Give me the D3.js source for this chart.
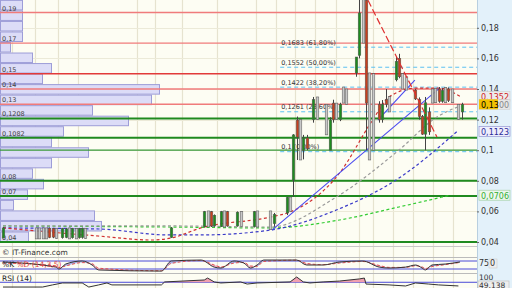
<!DOCTYPE html>
<html><head><meta charset="utf-8">
<script src="https://cdn.jsdelivr.net/npm/d3@7"></script>
<style>body{margin:0;background:#fff}svg{display:block}text{font-family:"DejaVu Sans",Verdana,sans-serif}</style>
</head><body><svg id="c" width="512" height="288"></svg>
<script>
// ---------- data ----------
const priceTicks=[0.04,0.06,0.08,0.1,0.12,0.14,0.16,0.18];
const resistLevels=[0.19,0.17,0.15,0.14,0.13];
const supportLevels=[0.1208,0.1082,0.08,0.07,0.04];
const levelLabels=["0,19","0,17","0,15","0,14","0,13","0,1208","0,1082","0,08","0,07","0,04"];
const fibLevels=[0.1683,0.1552,0.1422,0.1261,0.1];
const fibLabels=["0,1683 (61,80%)","0,1552 (50,00%)","0,1422 (38,20%)","0,1261 (23,60%)","0,1 (0,00%)"];
const fibStartDay=84;
const volBinStart=0.04, volBinStep=0.00688;
const volBins=[28,101,94,13,27,43,32,51,88,51,63,128,92,151,159,42,51,32,10,22,22,22,22];
const gridDays=[2.7,9.7,16.7,22.7,40.6,46,54.2,64.8,76.7,82.7,88.5,94.5,100.9,107.9,112.1,118.2,124.2,130.3,136.4];
// [day, open, high, low, close]
const candles=[
[0,.0426,.0498,.0426,.0492],
[10,.045,.0492,.0420,.045],[11,.045,.0492,.0420,.045],[12,.045,.0492,.0420,.045],[13,.045,.0492,.0420,.045],
[14,.0490,.0495,.0425,.0430],[15,.0488,.0492,.0425,.0432],[16,.045,.0490,.0422,.045],
[18,.0428,.0492,.0422,.0488],[19,.0430,.0492,.0425,.0486],[20,.045,.0492,.0420,.045],
[21,.0428,.0492,.0422,.0488],[22,.045,.0490,.0420,.045],[23,.0428,.0492,.0422,.0489],[24,.0430,.0494,.0422,.0490],[25,.045,.0490,.0422,.045],
[51,.0430,.0498,.0426,.0492],
[61,.0500,.0603,.0495,.0598],[62,.055,.0603,.0498,.055],[63,.0598,.0603,.0498,.0505],[64,.0505,.0580,.0500,.0575],
[66,.0500,.0603,.0498,.0598],[67,.055,.0603,.0498,.055],[68,.0598,.0603,.0500,.0505],
[71,.0505,.0600,.0500,.0595],[72,.055,.0600,.0500,.055],
[76,.0500,.0603,.0495,.0598],[77,.055,.0603,.0498,.055],
[81,.055,.0603,.0480,.055],[82,.0520,.0590,.0500,.0580],
[86,.0590,.0694,.0576,.0690],[87,.064,.0694,.0600,.064],
[88,.0805,.1105,.0694,.1100],[89,.1197,.1220,.0936,.1086],[90,.105,.1200,.0936,.105],
[91,.1000,.1100,.0940,.1080],[92,.1080,.1100,.1000,.1010],
[94,.1200,.1348,.1180,.1330],[95,.127,.1348,.1200,.127],
[98,.120,.1300,.1100,.120],[99,.1000,.1215,.1000,.1197],[100,.1308,.1330,.1180,.1200],[101,.125,.1308,.1200,.125],
[102,.1200,.1310,.1190,.1300],[103,.136,.1413,.1308,.136],[104,.135,.1400,.1300,.135],
[107,.1505,.1609,.1480,.1609],[108,.1620,.2000,.1600,.1897],[109,.185,.2000,.1700,.185],
[110,.1980,.2000,.1000,.1308],[111,.120,.1505,.0936,.120],[112,.125,.1500,.1000,.125],
[114,.1300,.1320,.1180,.1200],[115,.1200,.1328,.1180,.1300],[116,.1330,.1400,.1280,.1300],[117,.131,.1350,.1250,.131],
[119,.1460,.1610,.1450,.1580],[120,.1600,.1630,.1470,.1480],[121,.145,.1500,.1400,.145],[122,.144,.1480,.1393,.144],
[125,.1393,.1400,.1328,.1335],[126,.1330,.1345,.1200,.1220],[127,.1220,.1230,.1100,.1105],[128,.1105,.1348,.1000,.1310],
[129,.1250,.1280,.1100,.1120],[130,.135,.1400,.1308,.135],[131,.136,.1405,.1310,.136],[132,.1400,.1413,.1310,.1320],
[133,.1320,.1405,.1310,.1390],[134,.136,.1410,.1310,.136],[135,.1400,.1410,.1315,.1325],[136,.136,.1400,.1310,.136],
[138,.130,.1300,.1200,.130],[139,.1250,.1310,.1200,.1300]
];
const maRed=[[0,.0492],[14,.0465],[29,.0439],[45,.0413],[51,.0426],[60,.0492],[81,.0563],[87,.0596],[102,.0851],[112,.1197],[117,.1348],[125,.1406],[132,.1406],[138.5,.1352]];
const maBlue=[[0,.0492],[29,.0485],[50,.0446],[60,.0446],[81,.0478],[101,.0609],[120,.0818],[137.6,.1123]];
const maGreen=[[0,.0505],[50,.0498],[81,.0492],[102,.0544],[120,.0629],[135.5,.0706]];
const maGrey=[[0,.0505],[50,.0505],[81,.0498],[101,.0694],[120,.1001],[131.5,.1217],[138.5,.1289]];
const trendRed=[[110.6,.198],[131.5,.1086]];
const trendBlue1=[[81.5,.0478],[132.4,.1407]];
const trendBlue2=[[113.6,.1197],[124.8,.1458]];
const stochDay=[0,16,17,19,24,27,29,48,51,60,64,66,70,73,75,77,79,89,92,97,102,109,114,117,122,125,127,128,130,134,138.5];
const stochK=[69,37,25,56,75,50,19,12,75,81,37,31,75,62,31,50,81,81,50,50,69,75,37,31,37,50,31,19,50,56,69];
const stochD=[62,45,34,44,65,58,30,14,60,78,50,38,62,66,44,42,72,80,60,52,62,72,47,35,35,45,38,28,40,52,66];
const stochLevels=[75,25];
const rsiDay=[0,12,15,18,24,26,29,31.5,33,48,49,61,62,64,66,72,74,77,87,89,91,93,97,102,108,109.5,110,117,122,125,129,132,138];
const rsiVal=[43,43,55,66,66,43,55,66,55,55,72,83,94,72,66,72,60,66,72,100,72,66,72,77,89,94,60,55,49,66,60,55,49.138];
const rsiLevel=70;
const lastClose=0.13, lastRedMA=0.1352, lastBlueMA=0.1123, lastGreenMA=0.0706;

// ---------- drawing ----------
const svg=d3.select("#c");
const W=512,H=288,plotR=477,mainBottom=246;
const loc=d3.formatLocale({decimal:",",thousands:".",grouping:[3],currency:["",""]});
const fmt=loc.format("~g");
const x=d3.scaleLinear().domain([0,139]).range([3,461.7]);
const y=d3.scaleLinear().domain([0.04,0.18]).range([242,27.8]);
const xv=d3.scaleLinear().domain([0,160]).range([0,160]);
const ys=d3.scaleLinear().domain([0,100]).range([273,257]);
const yr=d3.scaleLinear().domain([0,100]).range([294.6,277]);

svg.append("rect").attr("width",W).attr("height",H).attr("fill","#fdfdf3");
svg.append("rect").attr("x",plotR).attr("width",W-plotR).attr("height",H).attr("fill","#e3f1fa");
svg.append("line").attr("x1",plotR+0.5).attr("x2",plotR+0.5).attr("y1",0).attr("y2",H).attr("stroke","#b8cfe0");

// grid
svg.append("g").selectAll("line").data(gridDays).join("line")
 .attr("x1",d=>Math.round(x(d))+0.5).attr("x2",d=>Math.round(x(d))+0.5).attr("y1",0).attr("y2",H)
 .attr("stroke","#e6e3cf").attr("stroke-width",1.2);
svg.append("g").selectAll("line").data(priceTicks).join("line")
 .attr("x1",0).attr("x2",plotR).attr("y1",d=>Math.round(y(d))+0.5).attr("y2",d=>Math.round(y(d))+0.5)
 .attr("stroke","#ecead8");

// volume-at-price histogram
svg.append("g").selectAll("rect").data(volBins).join("rect")
 .attr("x",0.5).attr("y",(d,i)=>y(volBinStart+(i+1)*volBinStep)+0.5)
 .attr("width",d=>xv(d)).attr("height",(d,i)=>y(volBinStart+i*volBinStep)-y(volBinStart+(i+1)*volBinStep)-1)
 .attr("fill","#dcdcf7").attr("stroke","#9d9dd8").attr("stroke-width",1);

// horizontal levels
svg.append("g").selectAll("line").data(resistLevels).join("line")
 .attr("x1",0).attr("x2",plotR).attr("y1",d=>y(d)).attr("y2",d=>y(d))
 .attr("stroke",d=>d===0.15?"#e23a3a":"#f07b7b").attr("stroke-width",1.4);
svg.append("line").attr("x1",0).attr("x2",plotR).attr("y1",y(0.1)).attr("y2",y(0.1)).attr("stroke","#3a9a3a").attr("stroke-width",1.2);
svg.append("g").selectAll("line").data(supportLevels).join("line")
 .attr("x1",0).attr("x2",plotR).attr("y1",d=>y(d)).attr("y2",d=>y(d))
 .attr("stroke","#1f8a1f").attr("stroke-width",2);
const allLevels=resistLevels.concat(supportLevels);
svg.append("g").selectAll("text").data(allLevels).join("text")
 .attr("x",2).attr("y",d=>y(d)-2).text((d,i)=>levelLabels[i])
 .attr("font-size",6.5).attr("fill","#444");

// fib lines
svg.append("g").selectAll("line").data(fibLevels).join("line")
 .attr("x1",x(fibStartDay)).attr("x2",plotR).attr("y1",d=>y(d)+1.5).attr("y2",d=>y(d)+1.5)
 .attr("stroke","#5cc0f2").attr("stroke-width",1).attr("stroke-dasharray","4,3");
svg.append("g").selectAll("text").data(fibLevels).join("text")
 .attr("x",x(fibStartDay)+1).attr("y",d=>y(d)-1).text((d,i)=>fibLabels[i])
 .attr("font-size",6.5).attr("fill","#333");

// moving averages
const line=d3.line().x(d=>x(d[0])).y(d=>y(d[1])).curve(d3.curveMonotoneX);
[[maGreen,"#33cc33"],[maGrey,"#9a9a9a"],[maBlue,"#3a3ac8"],[maRed,"#d03030"]].forEach(([d,c])=>{
 svg.append("path").attr("d",line(d)).attr("fill","none").attr("stroke",c).attr("stroke-width",1.2).attr("stroke-dasharray","3,2.5");
});
const lin=d3.line().x(d=>x(d[0])).y(d=>y(d[1]));
svg.append("path").attr("d",lin(trendBlue1)).attr("stroke","#4a4af0").attr("stroke-width",1.1).attr("fill","none");
svg.append("path").attr("d",lin(trendBlue2)).attr("stroke","#4a4af0").attr("stroke-width",1.1).attr("fill","none");

// candles
const cg=svg.append("g");
const cw=2.6;
candles.forEach(([d,o,h,l,c])=>{
 const cx=Math.round(x(d))+0.5;
 const col=c>o?"#1e8c1e":(c<o?"#c8401e":"#c8c8c8");
 cg.append("line").attr("x1",cx).attr("x2",cx).attr("y1",y(h)).attr("y2",y(l)).attr("stroke","#444").attr("stroke-width",1);
 const top=c===o?y(h):y(Math.max(o,c)), bot=c===o?y(l):y(Math.min(o,c));
 cg.append("rect").attr("x",cx-cw/2).attr("y",top).attr("width",cw).attr("height",Math.max(1,bot-top))
  .attr("fill",col).attr("stroke","#555").attr("stroke-width",0.5);
});
svg.append("path").attr("d",lin(trendRed)).attr("stroke","#e03030").attr("stroke-width",1.2).attr("fill","none").attr("stroke-dasharray","7,3");

// right axis
const ax=svg.append("g").attr("transform",`translate(${plotR},0)`)
 .call(d3.axisRight(y).tickValues(priceTicks).tickFormat(fmt).tickSize(2).tickPadding(2));
ax.select(".domain").remove();
ax.selectAll("text").attr("font-size",8).attr("fill","#333").attr("font-family","DejaVu Sans");
ax.selectAll("line").attr("stroke","#666");

// value tags
function tag(v,txt,fg,bg,border){
 const g=svg.append("g").attr("transform",`translate(${plotR+2},${y(v)})`);
 g.append("rect").attr("x",0).attr("y",-5).attr("width",31).attr("height",10).attr("fill",bg).attr("stroke",border).attr("stroke-width",0.6);
 g.append("text").attr("x",2).attr("y",3.5).text(txt).attr("font-size",8).attr("fill",fg);
 return g;
}
tag(lastRedMA,fmt(lastRedMA),"#d02020","#ececec","#cfcfcf");
const tc=tag(lastClose,"","#000","#e6e6e6","#cfcfcf");
tc.append("rect").attr("x",0).attr("y",-5).attr("width",19).attr("height",10).attr("fill","#f2c200");
tc.append("text").attr("x",2).attr("y",3.5).attr("font-size",8).attr("fill","#000").text(loc.format(".2f")(lastClose));
tc.append("text").attr("x",20).attr("y",3.5).attr("font-size",8).attr("fill","#888").text("00");
tag(lastBlueMA,fmt(lastBlueMA),"#2a2a9a","#eeeefc","#8888cc");
tag(lastGreenMA,fmt(lastGreenMA),"#33b033","#eef6ee","#9acc9a");

// lower strip
svg.append("line").attr("x1",0).attr("x2",plotR).attr("y1",mainBottom+0.5).attr("y2",mainBottom+0.5).attr("stroke","#c8c8c8");
svg.append("text").attr("x",2).attr("y",255).attr("font-size",7.5).attr("fill","#333").text("© IT-Finance.com");

// stochastic panel
svg.append("line").attr("x1",0).attr("x2",plotR).attr("y1",257.5).attr("y2",257.5).attr("stroke","#bbb");
svg.append("g").selectAll("line").data(stochLevels).join("line")
 .attr("x1",0).attr("x2",plotR).attr("y1",d=>ys(d)).attr("y2",d=>ys(d)).attr("stroke","#4a4ad8").attr("stroke-width",1);
const sdata=stochDay.map((d,i)=>({d,k:stochK[i],s:stochD[i]}));
const defs=svg.append("defs");
defs.append("clipPath").attr("id","aboveK").append("path")
 .attr("d",d3.area().x(p=>x(p.d)).y0(250).y1(p=>ys(p.k)).curve(d3.curveMonotoneX)(sdata));
defs.append("clipPath").attr("id","belowK").append("path")
 .attr("d",d3.area().x(p=>x(p.d)).y0(280).y1(p=>ys(p.k)).curve(d3.curveMonotoneX)(sdata));
const between=d3.area().x(p=>x(p.d)).y0(p=>ys(p.k)).y1(p=>ys(p.s)).curve(d3.curveMonotoneX);
svg.append("path").datum(sdata).attr("d",between).attr("fill","#f4b4c4").attr("clip-path","url(#aboveK)");
svg.append("path").datum(sdata).attr("d",between).attr("fill","#aab0e8").attr("clip-path","url(#belowK)");
svg.append("path").datum(sdata).attr("d",d3.line().x(p=>x(p.d)).y(p=>ys(p.s)).curve(d3.curveMonotoneX))
 .attr("fill","none").attr("stroke","#e05050").attr("stroke-width",1).attr("stroke-dasharray","3,2");
svg.append("path").datum(sdata).attr("d",d3.line().x(p=>x(p.d)).y(p=>ys(p.k)).curve(d3.curveMonotoneX))
 .attr("fill","none").attr("stroke","#333").attr("stroke-width",1);
const st=svg.append("text").attr("x",2).attr("y",266.5).attr("font-size",7.5);
st.append("tspan").attr("fill","#222").text("%K ");
st.append("tspan").attr("fill","#e04040").text("%D (14,3,5)");
svg.append("text").attr("x",plotR+2).attr("y",266).attr("font-size",8).attr("fill","#333").text(stochLevels[0]);
svg.append("rect").attr("x",plotR+12).attr("y",259).attr("width",8).attr("height",9).attr("fill","#eee").attr("stroke","#ccc").attr("stroke-width",0.6);
svg.append("text").attr("x",plotR+13).attr("y",266).attr("font-size",8).attr("fill","#333").text("0");

// RSI panel
svg.append("line").attr("x1",0).attr("x2",plotR).attr("y1",273.5).attr("y2",273.5).attr("stroke","#bbb");
svg.append("line").attr("x1",0).attr("x2",plotR).attr("y1",yr(rsiLevel)).attr("y2",yr(rsiLevel)).attr("stroke","#4a4ad8");
const rdata=rsiDay.map((d,i)=>({d,v:rsiVal[i]}));
svg.append("path").datum(rdata).attr("d",d3.area().x(p=>x(p.d)).y0(yr(rsiLevel)).y1(p=>yr(Math.max(rsiLevel,p.v))))
 .attr("fill","#f0a0b0");
svg.append("path").datum(rdata).attr("d",d3.line().x(p=>x(p.d)).y(p=>yr(p.v)))
 .attr("fill","none").attr("stroke","#333").attr("stroke-width",1);
svg.append("text").attr("x",2).attr("y",281).attr("font-size",7.5).attr("fill","#222").text("RSI (14)");
svg.append("text").attr("x",plotR+2).attr("y",279.5).attr("font-size",7.5).attr("fill","#333").text("100");
svg.append("rect").attr("x",plotR+1).attr("y",281).attr("width",31).attr("height",8).attr("fill","#eee").attr("stroke","#bbb").attr("stroke-width",0.6);
svg.append("text").attr("x",plotR+2).attr("y",287.5).attr("font-size",7.5).attr("fill","#333").text(loc.format(".3f")(rsiVal[rsiVal.length-1]));
</script></body></html>
